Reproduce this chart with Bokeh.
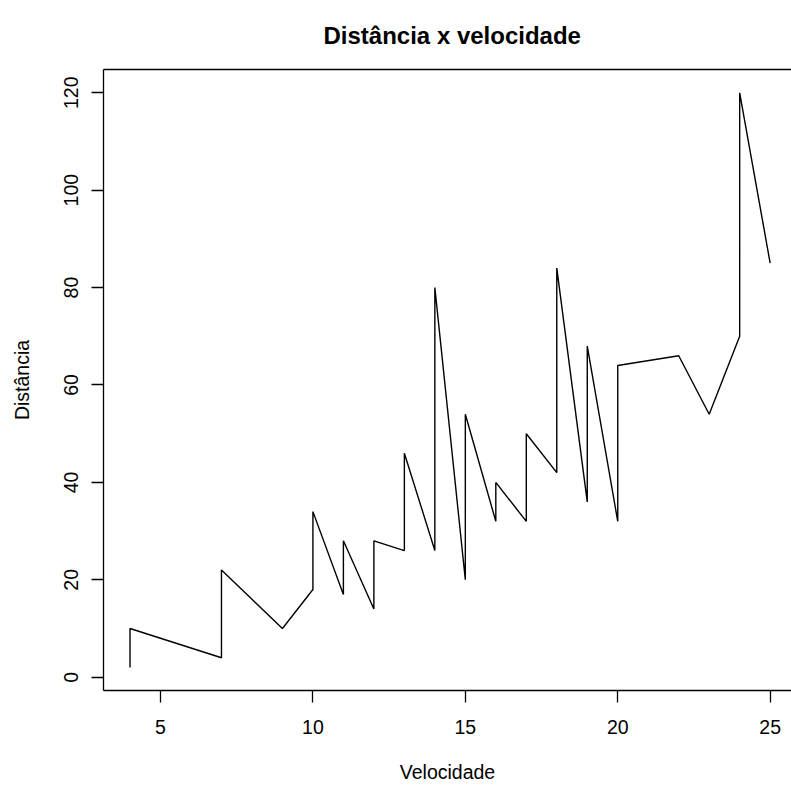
from bokeh.plotting import figure
from bokeh.models import Range1d, FixedTicker, LinearAxis
from bokeh.embed import file_html
from bokeh.resources import INLINE

# cars data (speed, dist) in original order
speed = [4, 4, 7, 7, 8, 9, 10, 10, 10, 11, 11, 12, 12, 12, 12, 13, 13, 13, 13,
         14, 14, 14, 14, 15, 15, 15, 16, 16, 17, 17, 17, 18, 18, 18, 18, 19, 19,
         19, 20, 20, 20, 20, 20, 22, 23, 24, 24, 24, 24, 25]
dist = [2, 10, 4, 22, 16, 10, 18, 26, 34, 17, 28, 14, 20, 24, 28, 26, 34, 34, 46,
        26, 36, 60, 80, 20, 26, 54, 32, 40, 32, 40, 50, 42, 56, 76, 84, 36, 46,
        68, 32, 48, 52, 56, 64, 66, 54, 70, 92, 93, 120, 85]
x_ticks = [5, 10, 15, 20, 25]
y_ticks = [0, 20, 40, 60, 80, 100, 120]
title_text = "Distância x velocidade"
x_label = "Velocidade"
y_label = "Distância"

FONT = "Liberation Sans"
FS = "19.5px"

p = figure(width=791, height=787,
           x_range=Range1d(3.13, 25.70), y_range=Range1d(-2.73, 124.78),
           output_backend="svg", toolbar_location=None,
           min_border_left=103, min_border_right=0,
           min_border_top=69, min_border_bottom=97)
p.grid.visible = False
p.outline_line_color = None
p.background_fill_color = "white"
p.border_fill_color = "white"

p.line(speed, dist, line_color="black", line_width=1.4)

xax = p.below[0]
yax = p.left[0]

for ax, ticks in ((xax, x_ticks), (yax, y_ticks)):
    ax.ticker = FixedTicker(ticks=ticks, minor_ticks=[])
    ax.axis_line_color = "black"
    ax.axis_line_width = 1.3
    ax.major_tick_line_color = "black"
    ax.major_tick_line_width = 1.3
    ax.major_tick_out = 12
    ax.major_tick_in = 0
    ax.minor_tick_out = 0
    ax.minor_tick_in = 0
    ax.major_label_text_font = FONT
    ax.major_label_text_font_size = FS
    ax.major_label_text_color = "black"
    ax.axis_label_text_font = FONT
    ax.axis_label_text_font_size = FS
    ax.axis_label_text_font_style = "normal"
    ax.axis_label_text_color = "black"

xax.axis_label = x_label
xax.major_label_standoff = 17
xax.axis_label_standoff = 24
yax.axis_label = y_label
yax.major_label_orientation = "vertical"
yax.major_label_standoff = 13
yax.axis_label_standoff = 29

# top box edge via an empty axis
top = LinearAxis(ticker=FixedTicker(ticks=[]), major_tick_out=0, major_tick_in=0,
                 minor_tick_out=0, minor_tick_in=0, major_label_text_font_size="0px",
                 major_label_standoff=0, major_tick_line_color=None,
                 axis_line_color="black", axis_line_width=1.3)
p.add_layout(top, "above")

p.title.text = title_text
p.title.text_font = FONT
p.title.text_font_size = "24px"
p.title.text_font_style = "bold"
p.title.text_color = "black"
p.title.align = "left"
p.title.vertical_align = "top"
p.title.offset = 220
p.title.standoff = 38

open("out.html", "w").write(file_html(p, INLINE))
